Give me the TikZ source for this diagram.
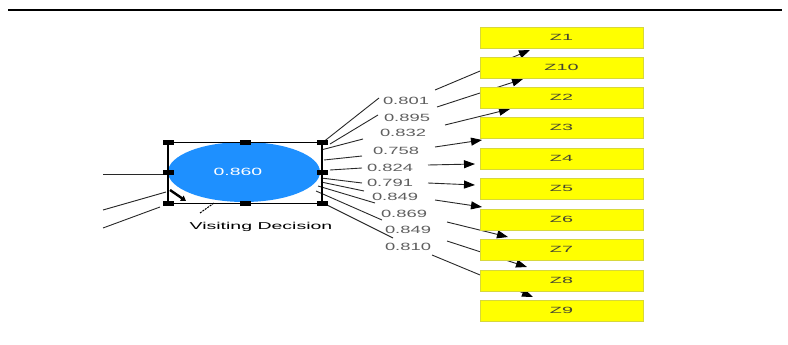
\documentclass[tikz,border=0pt]{standalone}
\usepackage{fontspec}
\setmainfont{Liberation Sans}
\usepackage{graphicx}
\usetikzlibrary{arrows.meta,shapes.geometric}
\definecolor{vdblue}{RGB}{30,144,255}
\definecolor{zyellow}{RGB}{255,255,0}
\definecolor{zedge}{RGB}{215,215,60}
\definecolor{ztext}{RGB}{70,70,50}
\definecolor{lbltext}{RGB}{95,95,95}
\definecolor{linec}{RGB}{40,40,40}
\newcommand\widetext[2]{\scalebox{#1}[1]{#2}}
\tikzset{
  zbox/.style={fill=zyellow, draw=zedge, line width=0.8pt, minimum width=163pt,
    minimum height=21pt, inner sep=0pt, font=\fontsize{9}{9}\selectfont, text=ztext},
  lbl/.style={inner sep=0pt, text=lbltext, font=\fontsize{10.5}{10.5}\selectfont},
  conn/.style={draw=linec, line width=0.9pt},
  arr/.style={conn, -{Triangle[length=11pt,width=8pt,color=black]}},
  handle/.style={fill=black, minimum width=11pt, minimum height=5pt, inner sep=0pt, draw=none},
}
\begin{document}
\begin{tikzpicture}[x=1pt,y=-1pt]
\useasboundingbox (0,0) rectangle (788,345);
\draw[line width=1.2pt] (8,10) -- (782,10);

% ---- connectors (drawn first, boxes cover them) ----
\coordinate (s1) at (322,143); \coordinate (e1) at (379,98);
\coordinate (s2) at (330,144); \coordinate (e2) at (378,115);
\coordinate (s3) at (321,150); \coordinate (e3) at (363,139);
\coordinate (s4) at (324,160); \coordinate (e4) at (362,156);
\coordinate (s5) at (330,170); \coordinate (e5) at (362,168);
\coordinate (s6) at (321,178); \coordinate (e6) at (362,183);
\coordinate (s7) at (321,182); \coordinate (e7) at (364,191);
\coordinate (s8) at (318,186); \coordinate (e8) at (375,203);
\coordinate (s9) at (316,191); \coordinate (e9) at (382,220);
\coordinate (s10) at (325,204); \coordinate (e10) at (393,238);

\coordinate (c1) at (435,90);  \coordinate (t1) at (530,50);
\coordinate (c2) at (437,107); \coordinate (t2) at (523,79);
\coordinate (c3) at (445,125); \coordinate (t3) at (510,109);
\coordinate (c4) at (435,147); \coordinate (t4) at (482,140);
\coordinate (c5) at (428,165); \coordinate (t5) at (475,164);
\coordinate (c6) at (428,183); \coordinate (t6) at (475,185);
\coordinate (c7) at (435,200); \coordinate (t7) at (482,207);
\coordinate (c8) at (447,222); \coordinate (t8) at (508,237);
\coordinate (c9) at (447,241); \coordinate (t9) at (527,267);
\coordinate (c10) at (432,255); \coordinate (t10) at (533,297);

\foreach \i in {1,...,10}{
  \draw[conn] (s\i) -- (e\i);
  \draw[arr] (c\i) -- (t\i);
}

% ---- incoming lines on the left ----
\coordinate (a1) at (103,174); \coordinate (b1) at (163,174);
\coordinate (a2) at (103,210); \coordinate (b2) at (166,192);
\coordinate (a3) at (103,228); \coordinate (b3) at (160,207);
\draw[conn] (a1) -- (b1);
\draw[conn] (a2) -- (b2);
\draw[conn] (a3) -- (b3);
\coordinate (k1) at (170,190); \coordinate (k2) at (186,201);
\draw[line width=2.4pt, -{Triangle[length=5pt,width=6pt]}] (k1) -- (k2);

% ---- boxes ----
\node[zbox] (z1)  at (561.5,37.5)  {\widetext{2.2}{Z1}};
\node[zbox] (z10) at (561.5,67.5)  {\widetext{2.2}{Z10}};
\node[zbox] (z2)  at (561.5,97.5)  {\widetext{2.2}{Z2}};
\node[zbox] (z3)  at (561.5,127.5) {\widetext{2.2}{Z3}};
\node[zbox] (z4)  at (561.5,158.5) {\widetext{2.2}{Z4}};
\node[zbox] (z5)  at (561.5,188.5) {\widetext{2.2}{Z5}};
\node[zbox] (z6)  at (561.5,219.5) {\widetext{2.2}{Z6}};
\node[zbox] (z7)  at (561.5,249.5) {\widetext{2.2}{Z7}};
\node[zbox] (z8)  at (561.5,280.5) {\widetext{2.2}{Z8}};
\node[zbox] (z9)  at (561.5,310.5) {\widetext{2.2}{Z9}};

% ---- loading labels ----
\node[lbl] (l1)  at (406,101) {\widetext{1.75}{0.801}};
\node[lbl] (l2)  at (407,118) {\widetext{1.75}{0.895}};
\node[lbl] (l3)  at (403,133) {\widetext{1.75}{0.832}};
\node[lbl] (l4)  at (396,151) {\widetext{1.75}{0.758}};
\node[lbl] (l5)  at (390,168) {\widetext{1.75}{0.824}};
\node[lbl] (l6)  at (390,183) {\widetext{1.75}{0.791}};
\node[lbl] (l7)  at (395,197) {\widetext{1.75}{0.849}};
\node[lbl] (l8)  at (404,214) {\widetext{1.75}{0.869}};
\node[lbl] (l9)  at (408,230) {\widetext{1.75}{0.849}};
\node[lbl] (l10) at (408,247) {\widetext{1.75}{0.810}};

% ---- latent variable ----
\node[ellipse, fill=vdblue, draw=none, minimum width=152pt, minimum height=60pt, inner sep=0pt] (vd) at (244,172) {};
\node[inner sep=0pt, text=white, font=\fontsize{10.5}{10.5}\selectfont] (vdval) at (238,172) {\widetext{1.85}{0.860}};
\draw[line width=0.7pt] (168,142) -- (322,142);
\draw[line width=0.7pt] (168,203) -- (322,203);
\draw[line width=1.8pt] (168,142) -- (168,203);
\draw[line width=1.8pt] (322,142) -- (322,203);
\node[handle] (hlt) at (168,142) {};
\node[handle] (hmt) at (245,142) {};
\node[handle] (hrt) at (322,142) {};
\node[handle] (hlc) at (168,172) {};
\node[handle] (hrc) at (322,172) {};
\node[handle] (hlb) at (168,203) {};
\node[handle] (hmb) at (245,203) {};
\node[handle] (hrb) at (322,203) {};
\node[inner sep=0pt, font=\fontsize{10}{10}\selectfont] (vdname) at (261,227) {\widetext{1.95}{Visiting Decision}};
\coordinate (p1) at (200,213);
\coordinate (p2) at (214,203);
\draw[line width=1pt, dash pattern=on 2pt off 1pt] (p1) -- (p2);
\end{tikzpicture}
\end{document}
